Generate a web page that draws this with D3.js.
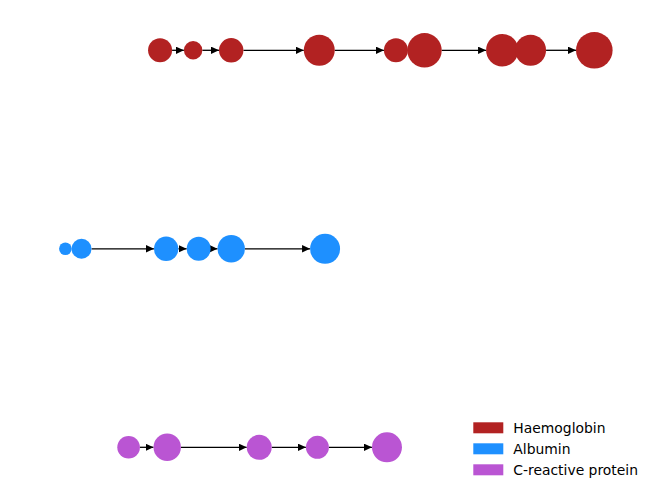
<!DOCTYPE html>
<html><head><meta charset="utf-8">
<script src="https://cdn.jsdelivr.net/npm/d3@7"></script>
<style>html,body{margin:0;padding:0;background:#fff;}</style>
</head><body>
<svg id="chart" width="660" height="499"></svg>
<script>
const categories = ["Haemoglobin", "Albumin", "C-reactive protein"];
const colors = ["#B22222", "#1E90FF", "#BA55D3"];
const haemoglobinTimes = [17.9, 24.15, 31.35, 48.0, 62.5, 67.9, 82.6, 87.95, 100];
const haemoglobinValues = [144, 85, 149, 240, 144, 296, 262, 240, 335];
const albuminTimes = [0, 3.05, 19.05, 25.2, 31.35, 49.1];
const albuminValues = [40, 100, 149, 144, 188, 225];
const crpTimes = [11.95, 19.25, 36.65, 47.65, 60.8];
const crpValues = [128, 188, 156, 132, 225];

const seriesTimes = [haemoglobinTimes, albuminTimes, crpTimes];
const seriesValues = [haemoglobinValues, albuminValues, crpValues];

const svg = d3.select("#chart");
const x = d3.scaleLinear().domain([0, 100]).range([65.4, 594.3]);
const y = d3.scalePoint().domain(categories).range([50.3, 447.3]);
const r = d3.scaleSqrt().domain([0, 335]).range([0, 18.3]);
const color = d3.scaleOrdinal().domain(categories).range(colors);

svg.append("defs").append("marker")
  .attr("id", "ah").attr("viewBox", "0 0 8 7.4")
  .attr("refX", 8).attr("refY", 3.7)
  .attr("markerUnits", "userSpaceOnUse")
  .attr("markerWidth", 8).attr("markerHeight", 7.4)
  .attr("orient", "auto")
  .append("path").attr("d", "M0,0L8,3.7L0,7.4Z").attr("fill", "#000");

categories.forEach((cat, i) => {
  const pts = seriesTimes[i].map((t, j) => ({t, v: seriesValues[i][j]}));
  const g = svg.append("g");
  const cy = y(cat);
  for (let j = 0; j < pts.length - 1; j++) {
    const a = pts[j], b = pts[j + 1];
    const x1 = x(a.t) + r(a.v), x2 = x(b.t) - r(b.v);
    if (x2 - x1 > 2) {
      g.append("line").attr("x1", x1).attr("x2", x2).attr("y1", cy).attr("y2", cy)
        .attr("stroke", "#000").attr("stroke-width", 1.3)
        .attr("marker-end", "url(#ah)");
    }
  }
  g.selectAll("circle").data(pts).join("circle")
    .attr("cx", d => x(d.t)).attr("cy", cy).attr("r", d => r(d.v))
    .attr("fill", color(cat));
});

const legend = svg.append("g").attr("transform", "translate(473.3,422.3)");
categories.forEach((cat, i) => {
  const row = legend.append("g").attr("transform", `translate(0,${i * 21})`);
  row.append("rect").attr("width", 30).attr("height", 11).attr("fill", color(cat));
  row.append("text").attr("x", 40).attr("y", 10.4)
    .attr("font-family", "DejaVu Sans").attr("font-size", 13.9).attr("fill", "#000")
    .text(cat);
});
</script>
</body></html>
